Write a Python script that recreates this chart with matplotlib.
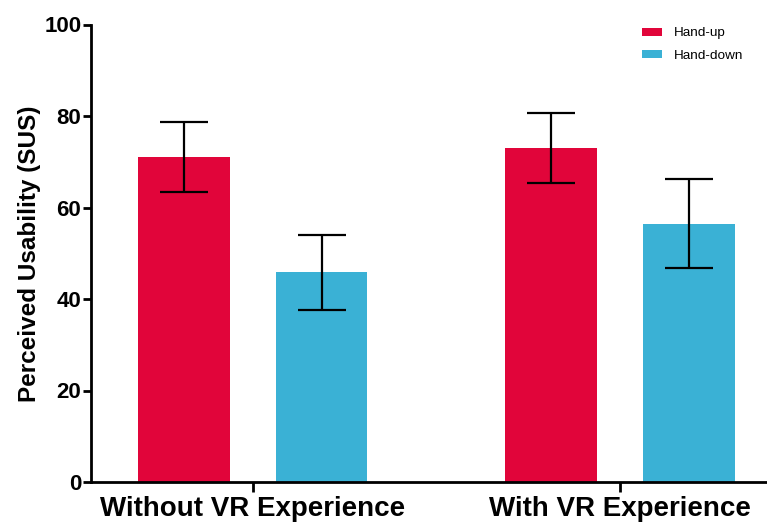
import matplotlib.pyplot as plt
import numpy as np

plt.rcParams['font.family'] = ['Liberation Sans', 'DejaVu Sans']

groups = ['Without VR Experience', 'With VR Experience']
series = ['Hand-up', 'Hand-down']
means = {
    'Hand-up': [71.0, 73.0],
    'Hand-down': [45.8, 56.5],
}
errs = {
    'Hand-up': [7.6, 7.6],
    'Hand-down': [8.2, 9.7],
}
colors = {'Hand-up': '#E1053A', 'Hand-down': '#3AB1D5'}

fig = plt.figure(figsize=(7.67, 5.24), dpi=100)
ax = fig.add_axes([91 / 767, 1 - 482 / 524, 1 - 91 / 767, (482 - 24.5) / 524])

x = np.arange(len(groups))
width = 0.25
offsets = [-0.1875, 0.1875]

for name, off in zip(series, offsets):
    ax.bar(x + off, means[name], width, color=colors[name], label=name, zorder=2)
    ax.errorbar(x + off, means[name], yerr=errs[name], fmt='none', ecolor='black',
                elinewidth=1.6, capsize=17, capthick=1.6, zorder=3)

ax.set_xlim(-0.44, 1.40)
ax.set_ylim(0, 100)
ax.set_yticks([0, 20, 40, 60, 80, 100])
ax.set_xticks(x)
ax.set_xticklabels(groups, fontsize=20, fontweight='bold')
ax.set_ylabel('Perceived Usability (SUS)', fontsize=17.5, fontweight='bold', labelpad=2)

for lab in ax.get_yticklabels():
    lab.set_fontweight('bold')
    lab.set_fontsize(16)

ax.spines['top'].set_visible(False)
ax.spines['right'].set_visible(False)
ax.spines['left'].set_linewidth(2)
ax.spines['bottom'].set_linewidth(2)
ax.tick_params(axis='y', direction='out', length=6, width=2, pad=1)
ax.tick_params(axis='x', direction='out', length=7, width=2, pad=3)

ax.legend(loc='upper right', bbox_to_anchor=(0.983, 1.02), frameon=False, fontsize=9.7,
          handlelength=1.5, handleheight=0.5, handletextpad=0.9, labelspacing=0.75)

fig.savefig('out.png', dpi=100)
